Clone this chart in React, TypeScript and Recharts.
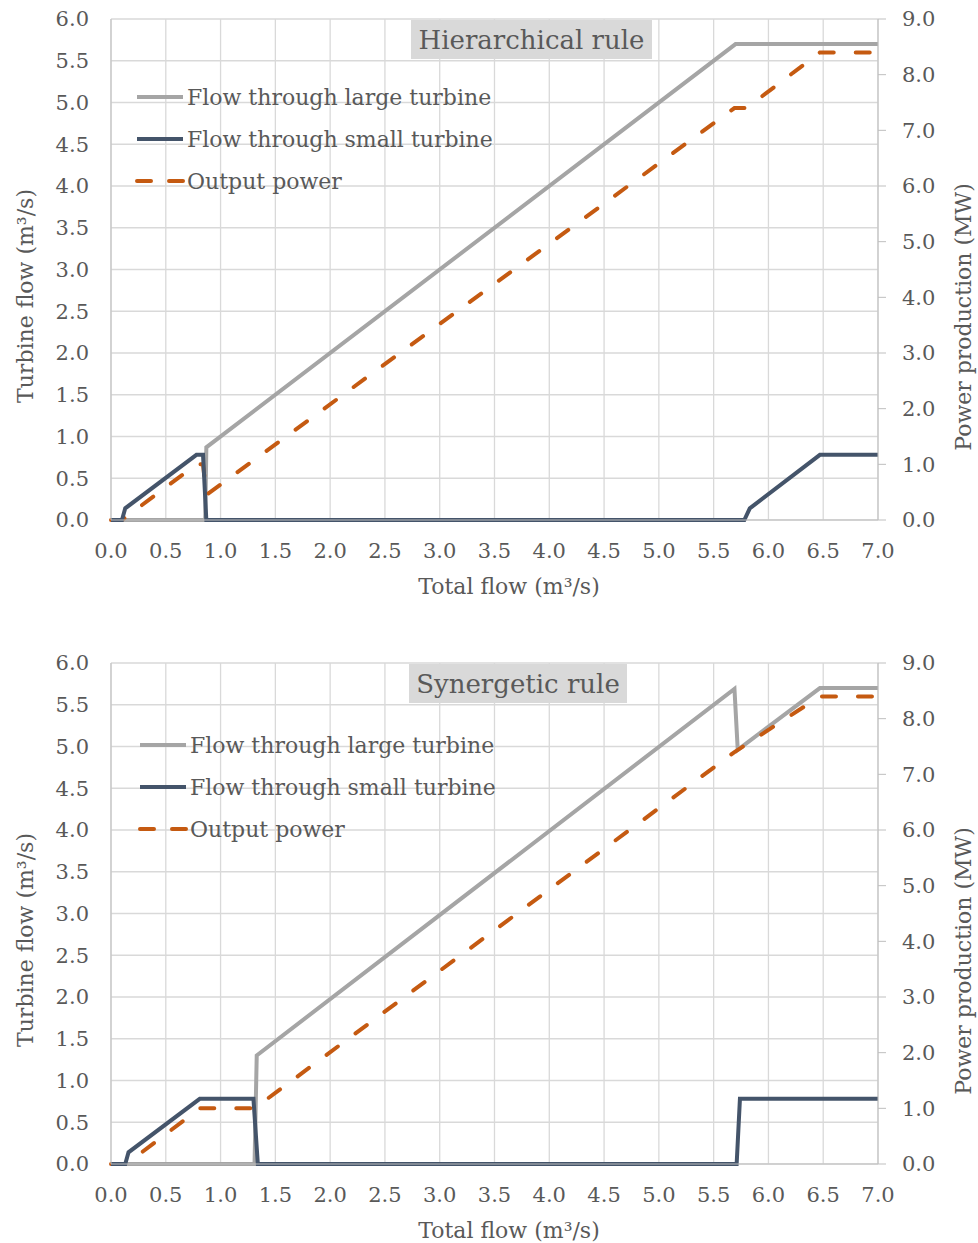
import React from 'react';
import { LineChart, Line, XAxis, YAxis, CartesianGrid } from 'recharts';

// tick labels
const flowTicks = [0, 0.5, 1, 1.5, 2, 2.5, 3, 3.5, 4, 4.5, 5, 5.5, 6, 6.5, 7];
const turbineTicks = [0, 0.5, 1, 1.5, 2, 2.5, 3, 3.5, 4, 4.5, 5, 5.5, 6];
const powerTicks = [0, 1, 2, 3, 4, 5, 6, 7, 8, 9];

// Hierarchical rule
const hLargeQ = [0, 0.86, 0.87, 5.7, 7.0];
const hLargeV = [0, 0, 0.87, 5.7, 5.7];
const hSmallQ = [0, 0.1, 0.13, 0.78, 0.84, 0.87, 5.78, 5.83, 6.47, 7.0];
const hSmallV = [0, 0, 0.14, 0.78, 0.78, 0, 0, 0.14, 0.78, 0.78];
const hPowerQ = [0, 0.1, 0.78, 0.84, 0.87, 5.69, 5.8, 6.47, 7.0];
const hPowerV = [0, 0, 1.0, 1.0, 0.45, 7.4, 7.4, 8.4, 8.4];

// Synergetic rule
const sLargeQ = [0, 1.31, 1.33, 5.69, 5.72, 6.47, 7.0];
const sLargeV = [0, 0, 1.3, 5.69, 4.96, 5.7, 5.7];
const sSmallQ = [0, 0.13, 0.16, 0.81, 1.3, 1.34, 5.71, 5.74, 7.0];
const sSmallV = [0, 0, 0.14, 0.78, 0.78, 0, 0, 0.78, 0.78];
const sPowerQ = [0, 0.14, 0.81, 1.31, 5.69, 6.47, 7.0];
const sPowerV = [0, 0, 1.0, 1.0, 7.4, 8.4, 8.4];

const toPts = (xs: number[], ys: number[]) => xs.map((x, i) => ({ x, y: ys[i] }));

const FONT = '"DejaVu Serif", serif';
const TXT = '#595959';
const GREY = '#a5a5a5';
const NAVY = '#44546a';
const ORANGE = '#c55a11';

const fmt = (v: number) => v.toFixed(1);

type PanelProps = {
  top: number;
  title: string;
  titleLeft: number;
  titleWidth: number;
  legendLeft: number;
  legendTop: number;
  large: { x: number; y: number }[];
  small: { x: number; y: number }[];
  power: { x: number; y: number }[];
};

const Panel: React.FC<PanelProps> = ({ top, title, titleLeft, titleWidth, legendLeft, legendTop, large, small, power }) => {
  const legendItems = [
    { name: 'Flow through large turbine', color: GREY, dash: undefined },
    { name: 'Flow through small turbine', color: NAVY, dash: undefined },
    { name: 'Output power', color: ORANGE, dash: '14 18' },
  ];
  return (
    <div style={{ position: 'absolute', left: 0, top, width: 978, height: 599 }}>
      <LineChart width={978} height={599} margin={{ top: 19, right: 0, bottom: 0, left: 0 }}>
        <CartesianGrid yAxisId="left" stroke="#d9d9d9" strokeWidth={1.3} />
        <XAxis
          dataKey="x"
          type="number"
          domain={[0, 7]}
          ticks={flowTicks}
          tickFormatter={fmt}
          height={79}
          tickSize={0}
          tickMargin={23}
          axisLine={{ stroke: '#bfbfbf' }}
          tick={{ fill: TXT, fontSize: 21, fontFamily: FONT }}
          allowDuplicatedCategory={false}
        />
        <YAxis
          yAxisId="left"
          type="number"
          domain={[0, 6]}
          ticks={turbineTicks}
          tickFormatter={fmt}
          width={111}
          tickSize={0}
          tickMargin={22}
          axisLine={{ stroke: '#bfbfbf' }}
          tick={{ fill: TXT, fontSize: 21, fontFamily: FONT }}
        />
        <YAxis
          yAxisId="right"
          orientation="right"
          type="number"
          domain={[0, 9]}
          ticks={powerTicks}
          tickFormatter={fmt}
          width={100}
          tickSize={8}
          tickMargin={16}
          axisLine={{ stroke: '#bfbfbf' }}
          tickLine={{ stroke: '#bfbfbf' }}
          tick={{ fill: TXT, fontSize: 21, fontFamily: FONT }}
        />
        <Line yAxisId="left" data={large} dataKey="y" type="linear" stroke={GREY} strokeWidth={4} dot={false} activeDot={false} isAnimationActive={false} />
        <Line yAxisId="right" data={power} dataKey="y" type="linear" stroke={ORANGE} strokeWidth={4} strokeDasharray="14 22" strokeLinecap="round" dot={false} activeDot={false} isAnimationActive={false} />
        <Line yAxisId="left" data={small} dataKey="y" type="linear" stroke={NAVY} strokeWidth={4} dot={false} activeDot={false} isAnimationActive={false} />
      </LineChart>

      {/* chart title */}
      <div
        style={{
          position: 'absolute', left: titleLeft, top: 20, width: titleWidth, height: 39,
          background: '#d9d9d9', color: TXT, fontFamily: FONT, fontSize: 26,
          display: 'flex', alignItems: 'center', justifyContent: 'center', whiteSpace: 'nowrap',
        }}
      >
        {title}
      </div>

      {/* legend */}
      {legendItems.map((it, i) => (
        <div key={it.name} style={{ position: 'absolute', left: legendLeft, top: legendTop + i * 42 - 14, height: 28, display: 'flex', alignItems: 'center', whiteSpace: 'nowrap' }}>
          <svg width={52} height={10} style={{ display: 'block' }}>
            <line x1={2} y1={5} x2={48} y2={5} stroke={it.color} strokeWidth={4} strokeDasharray={it.dash} strokeLinecap={it.dash ? 'round' : 'butt'} />
          </svg>
          <span style={{ fontFamily: FONT, fontSize: 22, color: TXT }}>{it.name}</span>
        </div>
      ))}

      {/* axis titles */}
      <div style={{ position: 'absolute', left: 509, top: 586, transform: 'translate(-50%, -50%)', fontFamily: FONT, fontSize: 22, color: TXT, whiteSpace: 'nowrap' }}>
        Total flow (m³/s)
      </div>
      <div style={{ position: 'absolute', left: 25, top: 296, transform: 'translate(-50%, -50%) rotate(-90deg)', fontFamily: FONT, fontSize: 22, color: TXT, whiteSpace: 'nowrap' }}>
        Turbine flow (m³/s)
      </div>
      <div style={{ position: 'absolute', left: 963, top: 317, transform: 'translate(-50%, -50%) rotate(-90deg)', fontFamily: FONT, fontSize: 22, color: TXT, whiteSpace: 'nowrap' }}>
        Power production (MW)
      </div>
    </div>
  );
};

export default function App() {
  return (
    <div style={{ position: 'absolute', left: 0, top: 0, width: 978, height: 1243, background: '#fff', overflow: 'hidden' }}>
      <Panel
        top={0}
        title="Hierarchical rule"
        titleLeft={411}
        titleWidth={241}
        legendLeft={135}
        legendTop={97}
        large={toPts(hLargeQ, hLargeV)}
        small={toPts(hSmallQ, hSmallV)}
        power={toPts(hPowerQ, hPowerV)}
      />
      <Panel
        top={644}
        title="Synergetic rule"
        titleLeft={409}
        titleWidth={218}
        legendLeft={138}
        legendTop={101}
        large={toPts(sLargeQ, sLargeV)}
        small={toPts(sSmallQ, sSmallV)}
        power={toPts(sPowerQ, sPowerV)}
      />
    </div>
  );
}
